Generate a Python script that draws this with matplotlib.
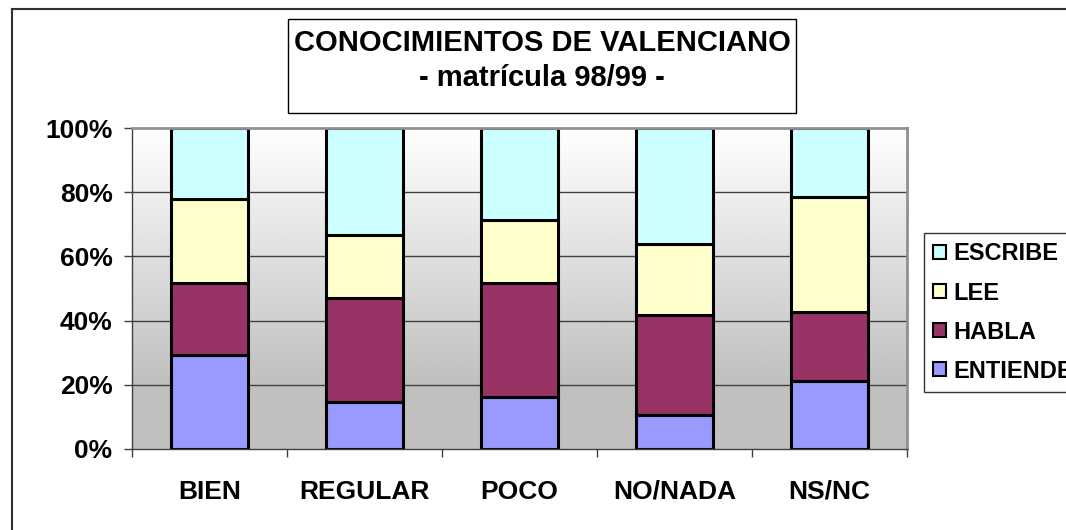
import numpy as np
import matplotlib
matplotlib.use("Agg")
from matplotlib import pyplot as plt
from matplotlib.patches import Rectangle
from matplotlib.lines import Line2D

plt.rcParams['font.family'] = ['Liberation Sans', 'DejaVu Sans']
plt.rcParams['font.weight'] = 'bold'

categories = ["BIEN", "REGULAR", "POCO", "NO/NADA", "NS/NC"]
series = ["ENTIENDE", "HABLA", "LEE", "ESCRIBE"]
entiende = [29.3, 14.5, 16.3, 10.6, 21.3]
habla = [22.3, 32.6, 35.5, 31.1, 21.5]
lee = [26.4, 19.5, 19.5, 22.1, 35.6]
escribe = [22.0, 33.4, 28.7, 36.2, 21.6]
colors = ["#9999FF", "#993366", "#FFFFCC", "#CCFFFF"]

W, H = 1066, 530
fig = plt.figure(figsize=(W/100, H/100), dpi=100)
ax = fig.add_axes([132/W, 1-449/H, (907-132)/W, (449-128)/H])

# gradient background of the plot area
grad = np.linspace(0, 1, 256)
shade = np.clip(1.0 - 0.25 * (1 - grad) / 0.8, 0.75, 1.0)
ax.imshow(shade[:, None], aspect='auto', cmap='gray', vmin=0, vmax=1,
          extent=[-0.5, 4.5, 0, 100], origin='lower', zorder=0)

for y in [20, 40, 60, 80]:
    ax.axhline(y, color='#404040', lw=1, zorder=1)

data = np.array([entiende, habla, lee, escribe])
x = np.arange(len(categories))
bottom = np.zeros(len(categories))
handles = []
for vals, name, c in zip(data, series, colors):
    tot = data.sum(axis=0)
    pct = vals / tot * 100
    b = ax.bar(x, pct, 0.5, bottom=bottom, color=c, edgecolor='black',
               linewidth=2.2, label=name, zorder=2)
    bottom += pct
    handles.append(b)

ax.set_xlim(-0.5, 4.5)
ax.set_ylim(0, 100)
ax.set_yticks([0, 20, 40, 60, 80, 100])
ax.set_yticklabels(["0%", "20%", "40%", "60%", "80%", "100%"], fontsize=19, fontweight='bold')
ax.set_xticks(x)
ax.set_xticklabels(categories, fontsize=19, fontweight='bold')
ax.tick_params(axis='x', length=0, pad=22)
ax.set_xticks(np.arange(-0.5, 5, 1), minor=True)
ax.tick_params(axis='x', which='minor', length=6, width=1, color='#404040', direction='out')
ax.tick_params(axis='y', length=6, width=1, color='#404040', pad=8)

for s in ['top', 'right']:
    ax.spines[s].set_color('#909090')
    ax.spines[s].set_linewidth(2)
ax.spines['left'].set_color('#404040')
ax.spines['bottom'].set_color('#404040')
ax.spines['left'].set_linewidth(1)
ax.spines['bottom'].set_linewidth(1)

leg = fig.legend(handles[::-1], series[::-1], loc='upper left',
                 bbox_to_anchor=(924/W, 1-233/H), fontsize=17,
                 frameon=True, fancybox=False, handlelength=0.55, handleheight=0.55,
                 handletextpad=0.3, borderpad=0.4, labelspacing=0.68,
                 borderaxespad=0)
leg.get_frame().set_edgecolor('black')
leg.get_frame().set_linewidth(1)
for t in leg.get_texts():
    t.set_fontweight('bold')
for h in leg.legend_handles:
    h.set_linewidth(1.5)

# title box
fig.patches.append(Rectangle((288/W, 1-113/H), (796-288)/W, (113-19)/H,
                             transform=fig.transFigure, facecolor='white',
                             edgecolor='black', linewidth=1))
fig.text(542/W, 1-43/H, "CONOCIMIENTOS DE VALENCIANO", ha='center', va='center',
         fontsize=21, fontweight='bold')
fig.text(542/W, 1-78/H, "- matrícula 98/99 -", ha='center', va='center',
         fontsize=21, fontweight='bold')

# outer chart border
fig.lines.append(Line2D([12/W, 12/W], [-0.1, 1-8.5/H], transform=fig.transFigure,
                        color='#303030', lw=1.5))
fig.lines.append(Line2D([12/W, 1.1], [1-8.5/H, 1-8.5/H], transform=fig.transFigure,
                        color='#303030', lw=1.5))

fig.savefig("out.png", dpi=100)
